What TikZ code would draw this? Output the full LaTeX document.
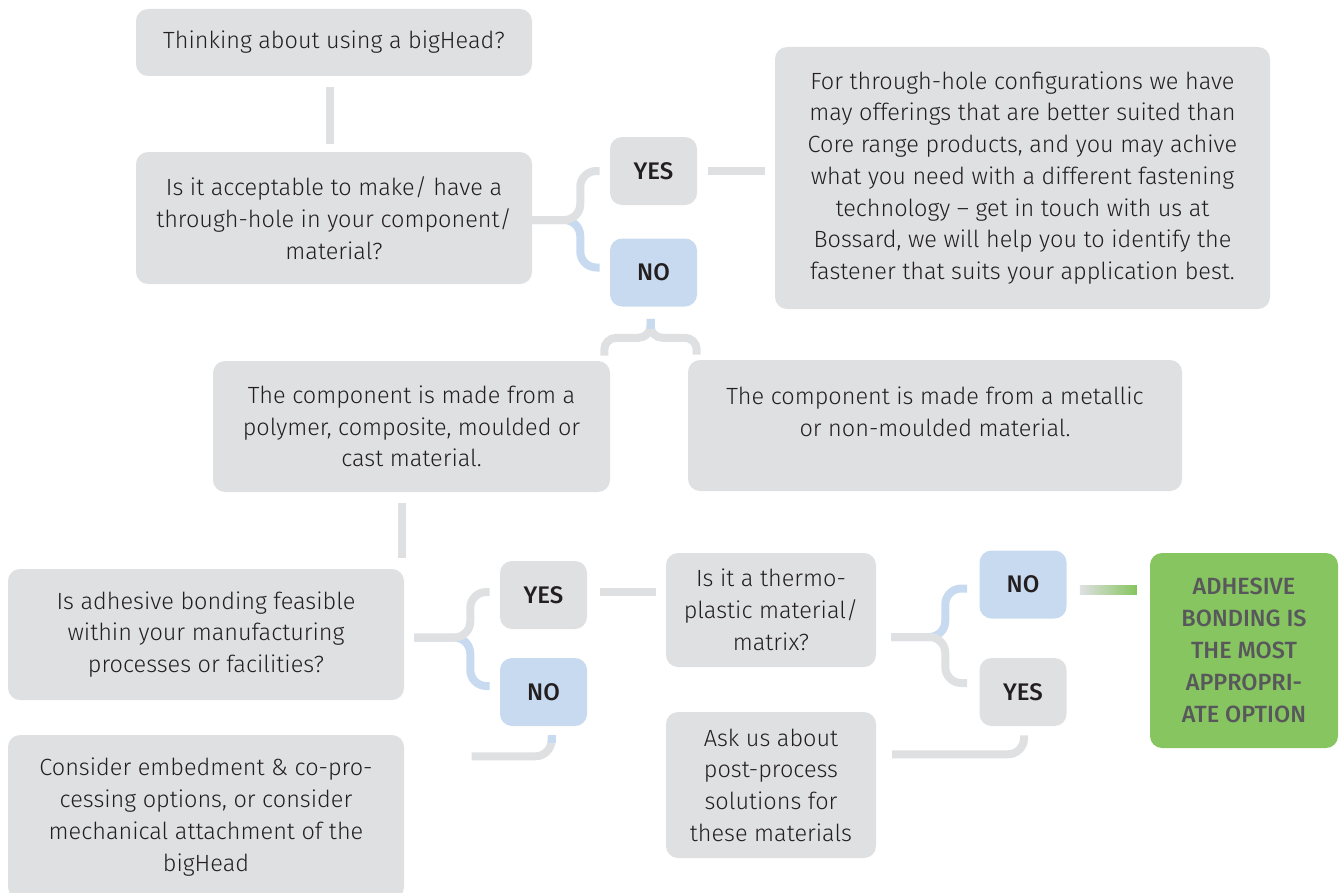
\documentclass[tikz,border=0pt]{standalone}
\usepackage{fontspec}
\setmainfont{Fira Sans}[UprightFont={* Light},BoldFont={* Medium}]
\usepackage{tikz}
\usetikzlibrary{calc}
\definecolor{boxgray}{RGB}{223,224,226}
\definecolor{noblue}{RGB}{200,218,239}
\definecolor{adhgreen}{RGB}{134,197,95}
\definecolor{textdark}{RGB}{35,31,32}
\definecolor{textgreen}{RGB}{88,88,92}
\newdimen\pxu \pxu=0.75pt
\tikzset{
  box/.style={fill=boxgray, rounded corners=12\pxu, inner sep=0pt, align=center,
    text=textdark, font=\fontsize{17.6}{23.8}\selectfont},
  answer/.style={box, minimum width=87\pxu, minimum height=68\pxu,
    font=\bfseries\fontsize{18}{20}\selectfont},
  noanswer/.style={answer, fill=noblue},
  link/.style={draw=boxgray, line width=8\pxu},
  bluelink/.style={draw=noblue, line width=8\pxu},
}

\begin{document}
\begin{tikzpicture}[x=0.75pt, y=-0.75pt]
  \useasboundingbox (0,0) rectangle (1341,892);
  \node[box, minimum width=396\pxu, minimum height=67\pxu]  (think)    at ( 334,  42.5){Thinking about using a bigHead?};
  \node[box, minimum width=396\pxu, minimum height=132\pxu] (through)  at ( 334, 218)  {Is it acceptable to make/ have a\\ through-hole in your component/\\ material?};
  \node[answer]                                             (yes1)     at ( 653.5, 171){YES};
  \node[noanswer]                                           (no1)      at ( 653.5, 272.5){NO};
  \node[box, minimum width=495\pxu, minimum height=262\pxu] (info)     at (1022.5, 178){For through-hole configurations we have\\ may offerings that are better suited than\\ Core range products, and you may achive\\ what you need with a different fastening\\ technology -- get in touch with us at\\ Bossard, we will help you to identify the\\ fastener that suits your application best.};
  \node[box, minimum width=397\pxu, minimum height=131\pxu] (polymer)  at ( 411.5, 426.5){The component is made from a\\ polymer, composite, moulded or\\ cast material.};
  \node[box, minimum width=494\pxu, minimum height=131\pxu] (metallic) at ( 935, 425.5){The component is made from a metallic\\ or non-moulded material.\\[-9.8pt] \strut};
  \node[box, minimum width=396\pxu, minimum height=131\pxu] (adhesive) at ( 206, 634.5){Is adhesive bonding feasible\\ within your manufacturing\\ processes or facilities?};
  \node[answer]                                             (yes2)     at ( 543.5, 595){YES};
  \node[noanswer]                                           (no2)      at ( 543.5, 692){NO};
  \node[box, minimum width=210\pxu, minimum height=114\pxu] (thermo)   at ( 771, 610)  {Is it a thermo-\\ plastic material/\\ matrix?};
  \node[noanswer]                                           (no3)      at (1023, 584.5){NO};
  \node[answer]                                             (yes3)     at (1023, 692)  {YES};
  \node[box, fill=adhgreen, text=textgreen, minimum width=188\pxu, minimum height=195\pxu,
    font=\bfseries\fontsize{17.6}{24}\selectfont]           (adhbest)  at (1244, 650.5){ADHESIVE\\ BONDING IS\\ THE MOST\\ APPROPRI-\\ ATE OPTION};
  \node[box, minimum width=396\pxu, minimum height=164\pxu] (consider) at ( 206, 817)  {Consider embedment \& co-pro-\\ cessing options, or consider\\ mechanical attachment of the\\ bigHead};
  \node[box, minimum width=210\pxu, minimum height=146\pxu] (ask)      at ( 771, 785)  {Ask us about\\ post-process\\ solutions for\\ these materials};
  \draw[link] ($(think.south)+(-4,11)$) -- ($(through.north)+(-4,-8)$);
  \draw[bluelink, rounded corners=16\pxu] ($(through.east)+(0,2)$) -- ++(48,0) |- ($(no1.west)+(-10,-5)$);
  \draw[link, rounded corners=16\pxu] ($(through.east)+(0,2)$) -- ++(48,0) |- ($(yes1.west)+(-10,0)$);
  \draw[link] ($(yes1.east)+(11,0)$) -- ($(yes1.east -| info.west)+(-10,0)$);
  \draw[link, rounded corners=12\pxu] ($(no1.south)+(-3,12)$) -- ++(0,19) -| ($(polymer.north east)+(-6,-5)$);
  \draw[link, rounded corners=12\pxu] ($(no1.south)+(-3,12)$) -- ++(0,19) -| ($(metallic.north west)+(9,-5)$);
  \draw[bluelink] ($(no1.south)+(-3,12)$) -- ++(0,10);
  \draw[link] ($(polymer.south)+(-10,11)$) -- ($(polymer.south |- adhesive.north)+(-10,-11)$);
  \draw[bluelink, rounded corners=16\pxu] ($(adhesive.east)+(10,3)$) -- ++(56,0) |- ($(no2.west)+(-10,-6)$);
  \draw[link, rounded corners=16\pxu] ($(adhesive.east)+(10,3)$) -- ++(56,0) |- ($(yes2.west)+(-10,-3)$);
  \draw[link] ($(yes2.east)+(13,-3)$) -- ($(yes2.east -| thermo.west)+(-10,-3)$);
  \draw[bluelink, rounded corners=16\pxu] ($(thermo.east)+(15,27)$) -- ++(54,0) |- ($(no3.west)+(-12,4)$);
  \draw[link, rounded corners=16\pxu] ($(thermo.east)+(15,27)$) -- ++(54,0) |- ($(yes3.west)+(-12,-9)$);
  \shade[left color=boxgray, right color=adhgreen] ($(no3.east)+(13,1)$) rectangle ($(no3.east -| adhbest.west)+(-13,10)$);
  \draw[link, rounded corners=16\pxu] ($(no2.south)+(8,9)$) |- ++(-80,21);
  \draw[bluelink] ($(no2.south)+(8,9)$) -- ++(0,8);
  \draw[link, rounded corners=16\pxu] ($(yes3.south)+(1,9)$) |- ++(-132,19);
\end{tikzpicture}
\end{document}
